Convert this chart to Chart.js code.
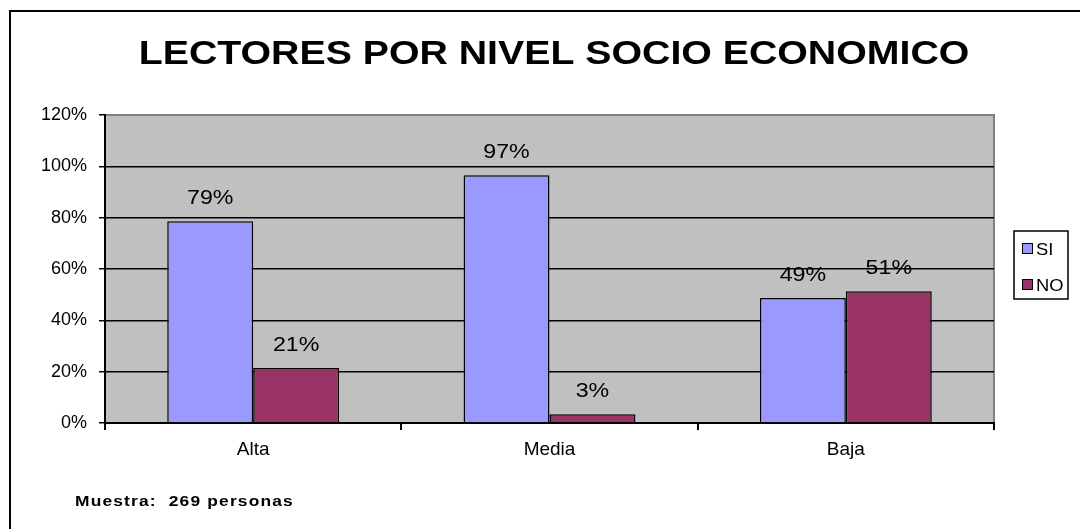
<!DOCTYPE html>
<html>
<head>
<meta charset="utf-8">
<script src="https://cdn.jsdelivr.net/npm/chart.js@4"></script>
<style>
  html, body { margin: 0; padding: 0; background: #fff; }
  #wrap { width: 1080px; height: 529px; position: relative; }
</style>
</head>
<body>
<div id="wrap"><canvas id="grafico" width="1080" height="529"></canvas></div>
<script>
var niveles = ["Alta", "Media", "Baja"];
var serieSi = [0.786, 0.965, 0.487];
var serieNo = [0.214, 0.034, 0.513];
var etiquetasSi = ["79%", "97%", "49%"];
var etiquetasNo = ["21%", "3%", "51%"];
var titulo = "LECTORES POR NIVEL SOCIO ECONOMICO";
var nota = "Muestra:  269 personas";

var fuente = "'Liberation Sans', Arial, sans-serif";

// texto estirado en horizontal, como en el original
function texto(ctx, s, x, y, escala) {
  ctx.save();
  ctx.translate(x, y);
  ctx.scale(escala, 1);
  ctx.fillText(s, 0, 0);
  ctx.restore();
}

var marco = {
  id: "marco",
  beforeDraw(chart) {
    var ctx = chart.ctx;
    var a = chart.chartArea;
    ctx.save();
    ctx.fillStyle = "#000";
    ctx.fillRect(9, 10, 2, 529);
    ctx.fillRect(9, 10, 1080, 2);
    ctx.fillStyle = "#c0c0c0";
    ctx.fillRect(a.left, a.top, a.right - a.left, a.bottom - a.top);
    ctx.strokeStyle = "#808080";
    ctx.lineWidth = 2;
    ctx.beginPath();
    ctx.moveTo(a.left, a.top);
    ctx.lineTo(a.right, a.top);
    ctx.lineTo(a.right, a.bottom);
    ctx.stroke();
    ctx.restore();
  },
  afterDraw(chart) {
    var ctx = chart.ctx;
    ctx.save();
    // titulo
    ctx.fillStyle = "#000";
    ctx.font = "bold 33px " + fuente;
    ctx.textAlign = "center";
    ctx.textBaseline = "middle";
    texto(ctx, titulo, 554, 55, 1.19);

    // etiquetas sobre barras
    ctx.font = "20px " + fuente;
    ctx.textBaseline = "alphabetic";
    var textos = [etiquetasSi, etiquetasNo];
    chart.data.datasets.forEach((ds, i) => {
      chart.getDatasetMeta(i).data.forEach((bar, j) => {
        texto(ctx, textos[i][j], bar.x, bar.y - 17, 1.16);
      });
    });

    // leyenda
    ctx.fillStyle = "#fff";
    ctx.fillRect(1014, 231, 54, 68);
    ctx.strokeStyle = "#000";
    ctx.lineWidth = 1.5;
    ctx.strokeRect(1014, 231, 54, 68);
    ctx.font = "17px " + fuente;
    ctx.textAlign = "left";
    ctx.textBaseline = "middle";
    chart.data.datasets.forEach((ds, i) => {
      var y = 249 + i * 36;
      ctx.fillStyle = ds.backgroundColor;
      ctx.fillRect(1022, y - 5, 10, 10);
      ctx.lineWidth = 1;
      ctx.strokeRect(1022.5, y - 5.5, 10, 10);
      ctx.fillStyle = "#000";
      texto(ctx, ds.label, 1036, y + 1, 1.08);
    });

    // nota
    ctx.font = "bold 15px " + fuente;
    ctx.letterSpacing = "1px";
    ctx.textBaseline = "alphabetic";
    texto(ctx, nota, 75, 506, 1.16);
    ctx.restore();
  }
};

new Chart(document.getElementById("grafico"), {
  type: "bar",
  data: {
    labels: niveles,
    datasets: [
      { label: "SI", data: serieSi, backgroundColor: "#9999ff", borderColor: "#000", borderWidth: 1.5, borderSkipped: "bottom" },
      { label: "NO", data: serieNo, backgroundColor: "#993366", borderColor: "#000", borderWidth: 1.5, borderSkipped: "bottom" }
    ]
  },
  options: {
    responsive: false,
    animation: false,
    layout: { padding: { left: 0, top: 115, right: 86, bottom: 66 } },
    datasets: { bar: { categoryPercentage: 0.58, barPercentage: 1.0 } },
    plugins: { legend: { display: false }, title: { display: false }, tooltip: { enabled: false } },
    scales: {
      x: {
        afterFit(s) { s.height = 40; },
        grid: { offset: true, drawOnChartArea: false, drawTicks: true, tickLength: 7, color: "#000", lineWidth: 2 },
        border: { display: true, color: "#000", width: 2 },
        ticks: { color: "#000", font: { family: fuente, size: 19 }, padding: 8 }
      },
      y: {
        min: 0,
        max: 1.2,
        afterFit(s) { s.width = 105; },
        grid: {
          color: ctx => (ctx.tick && ctx.tick.value >= 1.2 ? "rgba(0,0,0,0)" : "#000"),
          lineWidth: 1.5,
          tickLength: 6,
          tickColor: "#000"
        },
        border: { display: true, color: "#000", width: 2 },
        ticks: {
          stepSize: 0.2,
          color: "#000",
          padding: 12,
          font: { family: fuente, size: 18 },
          callback: v => Math.round(v * 100) + "%"
        }
      }
    }
  },
  plugins: [marco]
});
</script>
</body>
</html>
